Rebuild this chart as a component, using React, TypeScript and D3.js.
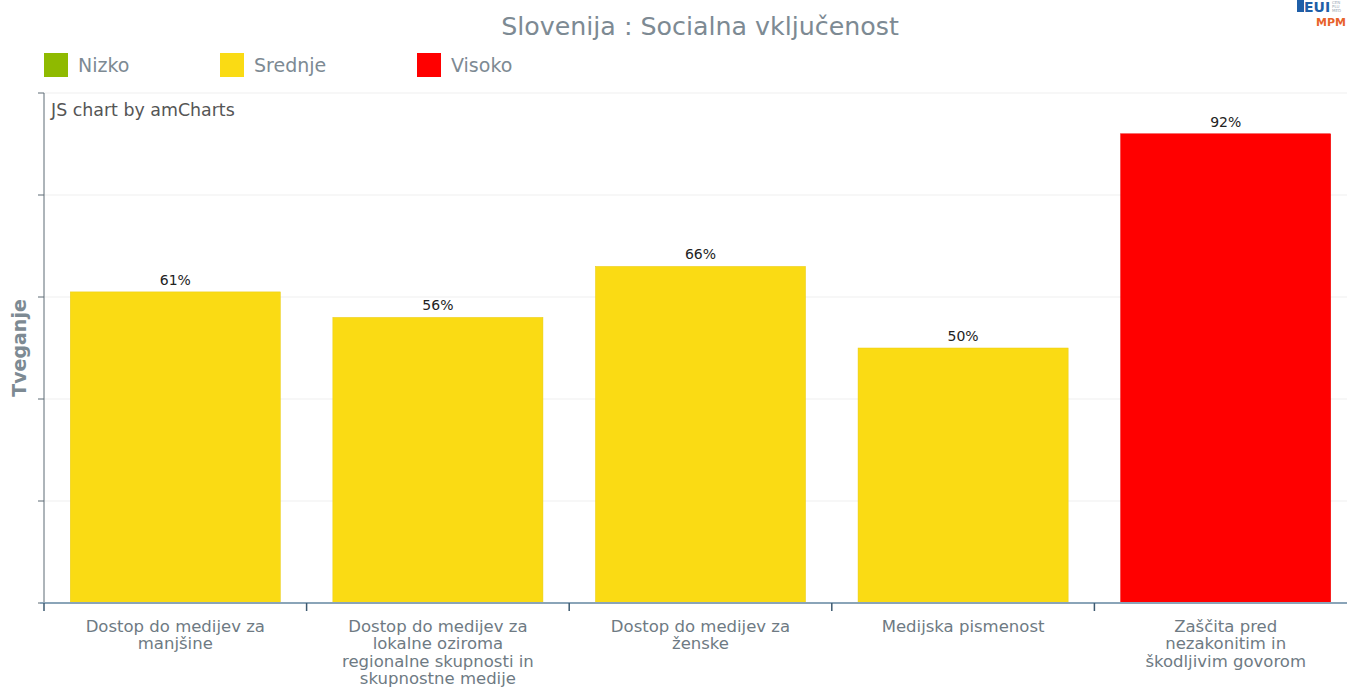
import React from "react";
import * as d3 from "d3";

const categories: string[][] = [
  ["Dostop do medijev za", "manjšine"],
  ["Dostop do medijev za", "lokalne oziroma", "regionalne skupnosti in", "skupnostne medije"],
  ["Dostop do medijev za", "ženske"],
  ["Medijska pismenost"],
  ["Zaščita pred", "nezakonitim in", "škodljivim govorom"],
];
const values = [61, 56, 66, 50, 92];
const levels = ["Srednje", "Srednje", "Srednje", "Srednje", "Visoko"];
const legendItems = ["Nizko", "Srednje", "Visoko"];
const legendColors = ["#8fba00", "#fadb14", "#ff0000"];
const yTicks = [0, 20, 40, 60, 80, 100];

const W = 1347;
const H = 689;
const FONT = "'DejaVu Sans', Verdana, sans-serif";

export default function App() {
  const left = 44, right = 1357, top = 93, bottom = 603;
  const x = d3.scaleBand<number>().domain(d3.range(values.length)).range([left, right]).paddingInner(0.2).paddingOuter(0.1);
  const xTick = d3.scaleLinear().domain([0, values.length]).range([left, right]);
  const y = d3.scaleLinear().domain([0, 100]).range([bottom, top]);
  const color = d3.scaleOrdinal<string, string>().domain(legendItems).range(legendColors);
  const legendX = [44, 220, 417];

  return (
    <svg width={W} height={H} style={{ position: "absolute", left: 0, top: 0, overflow: "hidden" }} fontFamily={FONT}>
      <rect width={W} height={H} fill="#fff" />
      <text x={700} y={35} textAnchor="middle" fontSize={25.3} fill="#7d8a93">Slovenija : Socialna vključenost</text>
      {/* logo */}
      <rect x={1297} y={0} width={7} height={12} fill="#1f5fa8" />
      <text x={1304} y={12} fontSize={14} fontWeight="bold" fill="#1f5fa8">EUI</text>
      <text x={1332} y={4} fontSize={4} fill="#9aa7b5">CEN</text>
      <text x={1332} y={8} fontSize={4} fill="#9aa7b5">PLU</text>
      <text x={1332} y={12} fontSize={4} fill="#9aa7b5">MED</text>
      <text x={1316} y={26} fontSize={11} fontWeight="bold" fill="#e8622a">MPM</text>
      {legendItems.map((l, i) => (
        <g key={l}>
          <rect x={legendX[i]} y={53} width={24} height={24} fill={color(l)} />
          <text x={legendX[i] + 34} y={72} fontSize={19} fill="#7d8a93">{l}</text>
        </g>
      ))}
      {yTicks.map((t) => (
        <g key={t}>
          <line x1={left} x2={W} y1={y(t)} y2={y(t)} stroke="#efefef" strokeWidth={1} />
          <line x1={left - 6} x2={left} y1={y(t)} y2={y(t)} stroke="#5c6b75" strokeWidth={1} />
        </g>
      ))}
      <line x1={left} x2={left} y1={top} y2={bottom} stroke="#5c6b75" strokeWidth={1} />
      <text x={51} y={116} fontSize={17.4} fill="#555">JS chart by amCharts</text>
      <text transform={`translate(26,${(top + bottom) / 2}) rotate(-90)`} textAnchor="middle" fontSize={19} fontWeight="bold" fill="#7d8a93">Tveganje</text>
      {values.map((v, i) => (
        <g key={i}>
          <rect x={x(i)} y={y(v)} width={x.bandwidth()} height={y(0) - y(v)} fill={color(levels[i])} stroke={d3.color(color(levels[i]))!.darker(0.2).toString()} strokeWidth={0.5} />
          <text x={x(i)! + x.bandwidth() / 2} y={y(v) - 7} textAnchor="middle" fontSize={14} fill="#222">{v}%</text>
        </g>
      ))}
      <line x1={left - 4} x2={W} y1={bottom} y2={bottom} stroke="#8aa4b8" strokeWidth={2} />
      {d3.range(values.length + 1).map((i) => (
        <line key={i} x1={xTick(i)} x2={xTick(i)} y1={bottom} y2={bottom + 8} stroke="#3d5a70" strokeWidth={1.5} />
      ))}
      {categories.map((lines, i) => (
        <text key={i} x={x(i)! + x.bandwidth() / 2} y={632} textAnchor="middle" fontSize={16.5} fill="#6e7a83">
          {lines.map((ln, j) => (
            <tspan key={j} x={x(i)! + x.bandwidth() / 2} dy={j === 0 ? 0 : 17.3}>{ln}</tspan>
          ))}
        </text>
      ))}
    </svg>
  );
}
